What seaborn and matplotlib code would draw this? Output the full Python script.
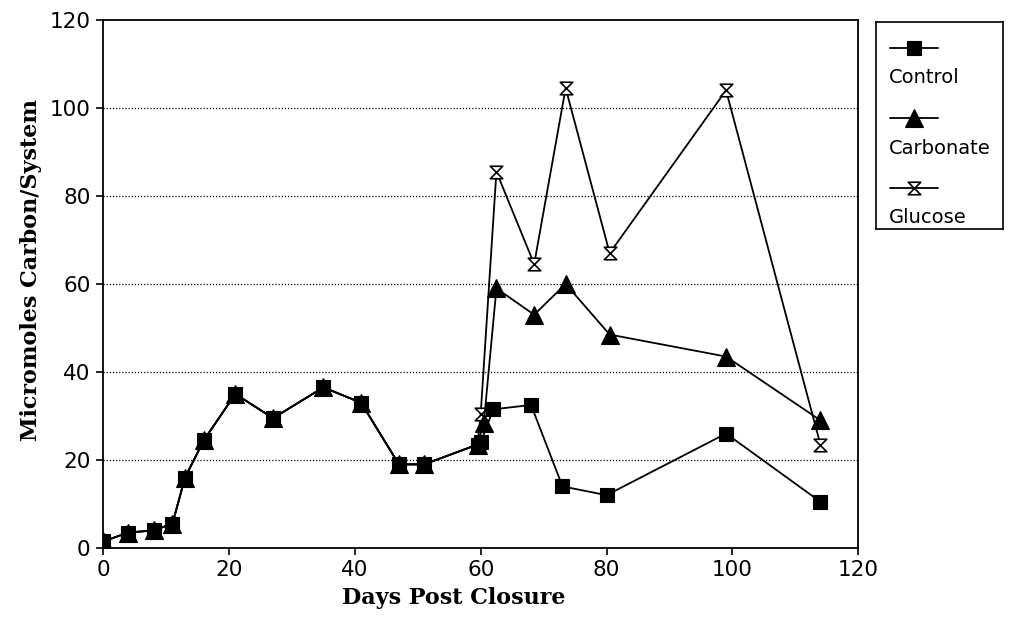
import matplotlib
matplotlib.use("Agg")
import matplotlib.pyplot as plt
import seaborn as sns
import pandas as pd
from matplotlib.path import Path

# days 0-59: the three treatments overlap
shared_days = [0, 4, 8, 11, 13, 16, 21, 27, 35, 41, 47, 51, 59.5]
shared_vals = [1.5, 3.5, 4, 5.5, 16, 24.5, 35, 29.5, 36.5, 33, 19, 19, 23.5]

control_days = [60, 62, 68, 73, 80, 99, 114]
control_vals = [24, 31.5, 32.5, 14, 12, 26, 10.5]

carbonate_days = [60.5, 62.5, 68.5, 73.5, 80.5, 99, 114]
carbonate_vals = [28.5, 59, 53, 60, 48.5, 43.5, 29]

glucose_days = [60, 62.5, 68.5, 73.5, 80.5, 99, 114]
glucose_vals = [30.5, 85.5, 64.5, 104.5, 67, 104, 23.5]

series_names = ["Control", "Carbonate", "Glucose"]

frames = []
for name, d, v in [("Control", control_days, control_vals),
                   ("Carbonate", carbonate_days, carbonate_vals),
                   ("Glucose", glucose_days, glucose_vals)]:
    frames.append(pd.DataFrame({"day": shared_days + d, "value": shared_vals + v, "series": name}))
df = pd.concat(frames, ignore_index=True)

hourglass = Path([(-1, 1), (1, 1), (-1, -1), (1, -1), (-1, 1)],
                 [Path.MOVETO, Path.LINETO, Path.LINETO, Path.LINETO, Path.CLOSEPOLY])

styles = {
    "Glucose": dict(marker=hourglass, markersize=9, markerfacecolor="white", markeredgewidth=1.2),
    "Carbonate": dict(marker="^", markersize=13, markerfacecolor="black", markeredgewidth=0.8),
    "Control": dict(marker="s", markersize=9.5, markerfacecolor="black", markeredgewidth=0.8),
}
zorders = {"Glucose": 3, "Carbonate": 4, "Control": 5}

sns.set_style("ticks")
plt.rcParams["font.family"] = ["DejaVu Sans"]
plt.rcParams["text.color"] = "black"
plt.rcParams["axes.labelcolor"] = "black"

fig = plt.figure(figsize=(10.12, 6.22), dpi=100)
ax = fig.add_axes([0.102, 0.119, 0.746, 0.849])

for name in ["Glucose", "Carbonate", "Control"]:
    sub = df[df["series"] == name]
    sns.lineplot(data=sub, x="day", y="value", ax=ax, color="black", linewidth=1.3,
                 markeredgecolor="black", sort=False, estimator=None, legend=False,
                 zorder=zorders[name], **styles[name])

ax.set_xlim(0, 120)
ax.set_ylim(0, 120)
ax.set_xticks(range(0, 121, 20))
ax.set_yticks(range(0, 121, 20))
ax.tick_params(axis="both", direction="out", length=5, width=1.2, color="black",
               labelsize=15.5, labelcolor="black", pad=4)
for sp in ax.spines.values():
    sp.set_visible(True)
    sp.set_color("black")
    sp.set_linewidth(1.3)
for y in range(20, 101, 20):
    ax.axhline(y, color="black", linestyle=(0, (1, 1.5)), linewidth=0.9, zorder=1)

ax.set_xlabel("Days Post Closure", family="DejaVu Serif", fontsize=16, fontweight="bold")
ax.set_ylabel("Micromoles Carbon/System", family="DejaVu Serif", fontsize=16, fontweight="bold")
ax.xaxis.set_label_coords(0.464, -0.073)
ax.yaxis.set_label_coords(-0.081, 0.527)

# legend box with the handle drawn above each label
lax = fig.add_axes([876 / 1012, 1 - 229 / 622, 127 / 1012, 207 / 622])
lax.set_xlim(0, 1)
lax.set_ylim(0, 1)
lax.set_xticks([])
lax.set_yticks([])
for sp in lax.spines.values():
    sp.set_color("black")
    sp.set_linewidth(1.2)
rows = [0.875, 0.535, 0.2]
for name, yy in zip(series_names, rows):
    lax.plot([0.11, 0.49], [yy, yy], color="black", linewidth=1.3)
    lax.plot([0.30], [yy], color="black", markeredgecolor="black", linestyle="none", **styles[name])
    lax.text(0.1, yy - 0.145, name, fontsize=14, va="center", ha="left")

fig.savefig("out.png", dpi=100)
